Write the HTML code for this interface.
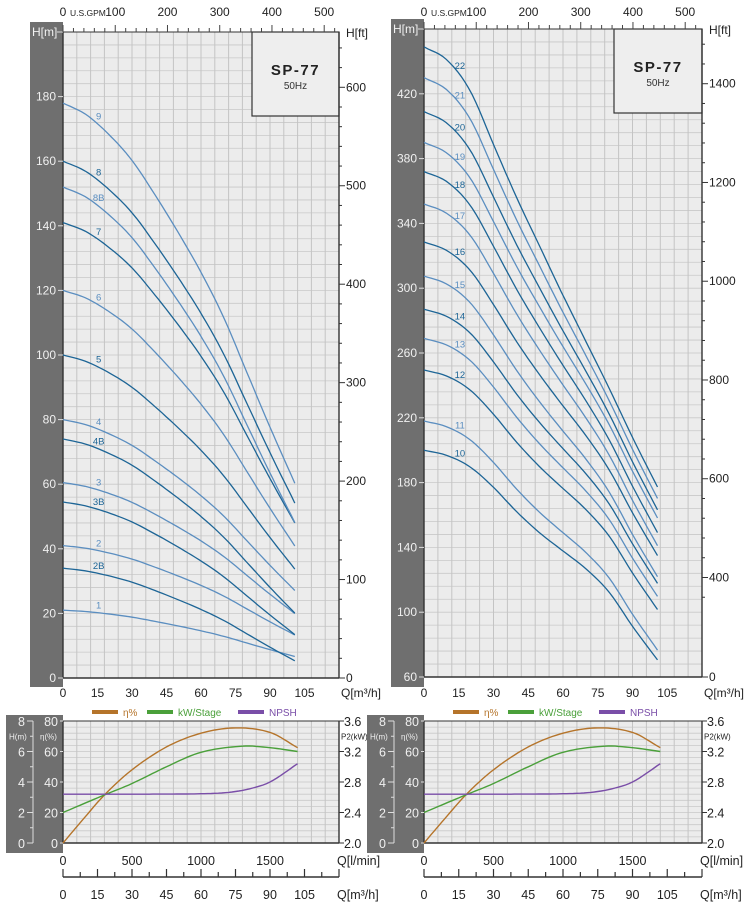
<!DOCTYPE html>
<html><head><meta charset="utf-8">
<style>
html,body{margin:0;padding:0;background:#fff;}
svg{display:block;font-family:"Liberation Sans",sans-serif;}
</style></head>
<body>
<svg id="s" width="750" height="919" viewBox="0 0 750 919" xmlns="http://www.w3.org/2000/svg"></svg>
<script>
const S=document.getElementById('s');let out='';
function L(x1,y1,x2,y2,c,w){out+=`<line x1="${x1}" y1="${y1}" x2="${x2}" y2="${y2}" stroke="${c}" stroke-width="${w||1}"/>`;}
function R(x,y,w,h,f,st){out+=`<rect x="${x}" y="${y}" width="${w}" height="${h}" fill="${f}" ${st?`stroke="${st}" stroke-width="1.2"`:''}/>`;}
function T(x,y,t,sz,c,anc,extra){out+=`<text x="${x}" y="${y}" font-size="${sz}" fill="${c||'#222'}" text-anchor="${anc||'start'}" ${extra||''}>${t}</text>`;}
function CR(pts,x){
  let i=0;while(i<pts.length-2&&x>pts[i+1][0])i++;
  const p0=pts[Math.max(i-1,0)],p1=pts[i],p2=pts[i+1],p3=pts[Math.min(i+2,pts.length-1)];
  const t=(x-p1[0])/(p2[0]-p1[0]);
  const m1=(p2[1]-p0[1])/(p2[0]-p0[0])*(p2[0]-p1[0]),m2=(p3[1]-p1[1])/(p3[0]-p1[0])*(p2[0]-p1[0]);
  const t2=t*t,t3=t2*t;
  return (2*t3-3*t2+1)*p1[1]+(t3-2*t2+t)*m1+(-2*t3+3*t2)*p2[1]+(t3-t2)*m2;
}
const F=[[0,1],[10,0.98],[20,0.945],[30,0.90],[40,0.84],[50,0.775],[60,0.705],[70,0.625],[80,0.53],[90,0.435],[101.6,0.33]];
const GL=F.map(p=>[p[0],(p[1]-0.33)/0.67]);
const GR=[[0,1],[10,0.975],[20,0.92],[30,0.825],[40,0.71],[50,0.61],[60,0.525],[70,0.44],[80,0.33],[90,0.17],[101.6,0]];
const GR2=[[0,1],[10,0.97],[20,0.90],[30,0.78],[40,0.66],[50,0.55],[60,0.44],[70,0.335],[80,0.23],[90,0.12],[101.6,0]];
const DK='#1d6596',LT='#5b8ec0';
function main(X0,X1,Yt,Yb,Hmin,Hmax,grayTop,opts){
  const qx=q=>X0+q*(X1-X0)/120, hy=h=>Yb-(h-Hmin)*(Yb-Yt)/(Hmax-Hmin);
  R(X0-33,grayTop,33,687-grayTop,'#6f6f6f');
  R(X0,Yt,X1-X0,Yb-Yt,'#ececec');
  for(let i=1;i<50;i++){const y=Yt+i*(Yb-Yt)/50;L(X0,y,X1,y,'#c9c9c9',0.8);}
  for(let i=1;i<20;i++){const x=X0+i*(X1-X0)/20;L(x,Yt,x,Yb,'#c4c4c4',1);}
  R(opts.bx,Yt,X1-opts.bx,84,'#eeeeee','#333');
  T((opts.bx+X1)/2,Yt+43,'SP-77',15,'#222','middle','font-weight="bold" letter-spacing="1.5"');
  T((opts.bx+X1)/2,Yt+57,'50Hz',10,'#333','middle');
  L(X0,Yt,X0,Yb,'#333',1.4);L(X1,Yt,X1,Yb,'#333',1.4);L(X0,Yb,X1,Yb,'#333',1.4);L(X0,Yt,X1,Yt,'#333',1);
  T(X0-31,Yt+4,'H[m]',12,'#f2f2f2');L(X0-6,Yt,X0,Yt,'#ddd',1);
  for(const h of opts.hl){const y=hy(h);L(X0-5,y,X0,y,'#ddd',1);T(X0-7,y+4,h,12,'#f0f0f0','end');}
  T(X1+7,Yt+5,'H[ft]',12,'#222');
  for(const f of opts.ft){L(X1,f[1],X1+(f[0]!==''?6:3),f[1],'#333',1);if(f[0]!=='')T(X1+7,f[1]+4,f[0],12,'#222');}
  for(let gp=0;gp<=520;gp+=20){const x=X0+gp*0.5224;if(x>X1)break;L(x,Yt,x,Yt-(gp%100==0?7:4),'#444',1);}
  T(X0,16,'0',12,'#222','middle');T(X0+7,16,'U.S.GPM',8.5,'#222');
  for(let gp=100;gp<=500;gp+=100)T(X0+gp*0.5224,16,gp,12,'#222','middle');
  for(let q=0;q<=105;q+=15)T(qx(q),697,q,12,'#222','middle');
  T(X1+2,697,'Q[m³/h]',12,'#222');
  for(const c of opts.curves){
    const [lab,h0,he,col,gf]=c;let d='';
    for(let q=0;q<=101.6;q+=1.6){const h=he+(h0-he)*gf(q);d+=(q==0?'M':'L')+qx(q).toFixed(1)+','+hy(h).toFixed(1);}
    out+=`<path d="${d}" fill="none" stroke="${col}" stroke-width="1.3"/>`;
    const hl=he+(h0-he)*gf(15);T(qx(15.5),hy(hl)-4,lab,9.5,col,'middle');
  }
}
{
 const ft=[];for(let f=20;f<=640;f+=20){const y=678-f*0.3048*3.23;ft.push([f%100==0?f:'',y]);}
 ft.push(['0',678]);
 const gl=q=>CR(GL,q);
 main(63,339,32,678,0,200,22,{bx:252,hl:[0,20,40,60,80,100,120,140,160,180],ft,
 curves:[['1',21,6.5,LT],['2B',34,5,DK],['2',41,13,LT],['3B',54.5,13,DK],['3',60.5,19.5,LT],['4B',74,19.5,DK],['4',80,26.5,LT],['5',100,33,DK],['6',120,40,LT],['7',141,47,DK],['8B',152,47,LT],['8',160,53,DK],['9',178,59,LT]].map(c=>c.concat([gl]))});
}
{
 const ft=[];for(let f=360;f<=1500;f+=40){const y=775-f*0.3048*1.62;if(y<29)break;ft.push([f%200==0?f:'',y]);}
 ft.push(['0',677]);
 const H0={22:449,21:430,20:409,19:390,18:372,17:352,16:328.5,15:307.5,14:287,13:269,12:249.5,11:218,10:200};
 const HE={10:69,11:75,12:100,13:108,14:116,15:120,16:133,17:139,18:147,19:156,20:161,21:168,22:175};
 const cs=[];for(let n=10;n<=22;n++){const w=(n-10)/12;cs.push([String(n),H0[n],HE[n],n%2==0?DK:LT,q=>(1-w)*CR(GR,q)+w*CR(GR2,q)]);}
 main(424,702,29,677,60,460,19,{bx:614,hl:[60,100,140,180,220,260,300,340,380,420],ft,curves:cs});
}
function bottom(X0,X1){
  const Yt=721,Yb=843,qx=q=>X0+q*(X1-X0)/120,lx=l=>qx(l*0.06),vy=v=>Yb-v*(Yb-Yt)/80;
  R(X0-57,715,57,138,'#6f6f6f');
  R(X0,Yt,X1-X0,Yb-Yt,'#ececec');
  for(let i=1;i<20;i++){const y=Yt+i*(Yb-Yt)/20;L(X0,y,X1,y,'#c9c9c9',0.8);}
  for(let i=1;i<20;i++){const x=X0+i*(X1-X0)/20;L(x,Yt,x,Yb,'#c4c4c4',1);}
  L(X0,Yt,X0,Yb,'#333',1.4);L(X1,Yt,X1,Yb,'#333',1.4);L(X0,Yb,X1,Yb,'#333',1.4);L(X0,Yt,X1,Yt,'#333',1);
  L(X0-30,Yt,X0-30,Yb,'#ddd',1);
  for(let i=0;i<=8;i++){const y=Yb-i*(Yb-Yt)/8;L(X0-30,y,X0-(i%2==0?36:33),y,'#ddd',1);}
  for(let h=0;h<=8;h+=2)T(X0-38,vy(h*10)+5,h,12.5,'#f0f0f0','end');
  for(let v=0;v<=80;v+=20){T(X0-5,vy(v)+5,v,12.5,'#f0f0f0','end');L(X0-3,vy(v),X0,vy(v),'#ddd',1);}
  T(X0-54,vy(70)+3,'H(m)',8,'#f0f0f0');T(X0-23,vy(70)+3,'η(%)',8,'#f0f0f0');
  [['3.6',80],['3.2',60],['2.8',40],['2.4',20],['2.0',0]].forEach(p=>{L(X1,vy(p[1]),X1+5,vy(p[1]),'#333',1);T(X1+5,vy(p[1])+5,p[0],12.5,'#222');});
  T(X1+2,vy(70)+3,'P2(kW)',8,'#222');
  const leg=[[X0+29,'η%','#b5742a'],[X0+84,'kW/Stage','#4aa03a'],[X0+175,'NPSH','#7a4ea8']];
  for(const l of leg){R(l[0],710,26,4,l[2]);T(l[0]+31,716,l[1],10,l[2]);}
  [0,500,1000,1500].forEach(l=>T(lx(l),865,l,12.5,'#222','middle'));
  T(X1-2,865,'Q[l/min]',12.5,'#222');
  L(X0,877,X1,877,'#333',1.5);
  for(let q=0;q<=120;q+=7.5){const x=qx(q);L(x,877,x,q%15==0?869:872,'#333',1.2);}
  for(let q=0;q<=105;q+=15)T(qx(q),899,q,12.5,'#222','middle');
  T(X1-2,899,'Q[m³/h]',12.5,'#222');
  const curves=[
   [[[0,0],[150,16],[300,31.5],[500,48],[750,63],[1000,72],[1250,75.5],[1500,72.5],[1700,62.5]],'#b5742a'],
   [[[0,20],[300,31.5],[500,39],[750,50],[1000,59.5],[1300,63.5],[1500,62.5],[1700,60]],'#4aa03a'],
   [[[0,32],[500,32],[1000,32.3],[1200,33.2],[1350,35.5],[1500,40],[1700,52]],'#7a4ea8']];
  for(const c of curves){let d='';for(let l=0;l<=1700;l+=25){d+=(l==0?'M':'L')+lx(l).toFixed(1)+','+vy(CR(c[0],l)).toFixed(1);}
    out+=`<path d="${d}" fill="none" stroke="${c[1]}" stroke-width="1.4"/>`;}
}
bottom(63,339);bottom(424,702);
S.innerHTML=out;
</script>
</body></html>
